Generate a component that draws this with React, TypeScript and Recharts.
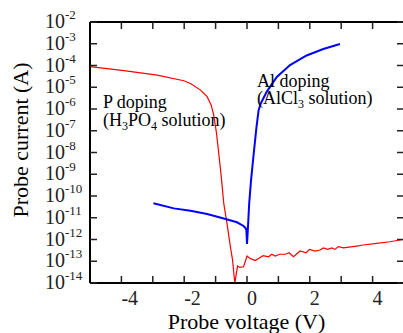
import React from 'react';
import { LineChart, Line, XAxis, YAxis } from 'recharts';

// P doping (H3PO4 solution) — red
const pVoltage = [-5.0, -3.92, -2.86, -2.01, -1.8, -1.48, -1.27, -1.14, -1.06, -0.97, -0.9, -0.83, -0.74, -0.63, -0.53, -0.46, -0.39, -0.3, -0.23, -0.11, 0.0, 0.1, 0.26, 0.42, 0.51, 0.69, 0.79, 0.9, 1.04, 1.22, 1.34, 1.48, 1.69, 1.88, 1.99, 2.17, 2.33, 2.43, 2.57, 2.7, 2.8, 2.91, 3.07, 3.49, 3.7, 4.13, 4.55, 5.0];
const pCurrent = [8.9e-5, 5.8e-5, 3.6e-5, 2.0e-5, 1.5e-5, 7.4e-6, 3.7e-6, 1.5e-6, 5.2e-7, 7.6e-8, 9.1e-9, 1.1e-9, 4.6e-11, 4.7e-12, 4.7e-13, 1.15e-13, 1.0e-14, 6.0e-14, 5.2e-14, 5.6e-14, 1.74e-13, 1.35e-13, 1.07e-13, 1.5e-13, 1.8e-13, 1.6e-13, 2.1e-13, 1.74e-13, 2.1e-13, 2.1e-13, 2.45e-13, 1.6e-13, 2.95e-13, 2.45e-13, 3.5e-13, 2.95e-13, 3.3e-13, 4.1e-13, 3.5e-13, 4.1e-13, 3.5e-13, 4.7e-13, 4.1e-13, 5.0e-13, 5.6e-13, 6.6e-13, 7.9e-13, 1.02e-12];

// Al doping (AlCl3 solution) — blue
const alVoltage = [-2.98, -2.33, -1.8, -1.27, -0.74, -0.32, -0.11, -0.05, -0.02, 0.0, 0.02, 0.07, 0.13, 0.21, 0.3, 0.37, 0.44, 0.63, 0.95, 1.37, 1.9, 2.43, 2.96];
const alCurrent = [4.6e-11, 2.7e-11, 2.1e-11, 1.5e-11, 9.3e-12, 6.2e-12, 4.2e-12, 3.4e-12, 2.8e-12, 6.2e-13, 1.9e-12, 4.6e-11, 5.5e-10, 7.9e-9, 1.4e-7, 8.9e-7, 1.8e-6, 6.3e-6, 2.95e-5, 1.05e-4, 2.9e-4, 5.75e-4, 9.8e-4];

const xTicks = [-5, -4, -3, -2, -1, 0, 1, 2, 3, 4, 5];
const xLabelTicks = [-4, -2, 0, 2, 4];
const yTicks = [1e-14, 1e-13, 1e-12, 1e-11, 1e-10, 1e-9, 1e-8, 1e-7, 1e-6, 1e-5, 1e-4, 1e-3, 1e-2];

const pData = pVoltage.map((v, i) => ({ v, i: pCurrent[i] }));
const alData = alVoltage.map((v, i) => ({ v, i: alCurrent[i] }));

const FONT = "'Liberation Serif', 'Times New Roman', serif";

const YTick = (props: any) => {
  const { y, payload } = props;
  const exp = Math.round(Math.log10(payload.value));
  return (
    <text x={45} y={y + 6} style={{ fontFamily: FONT }} fontSize={20} fill="#222" textAnchor="start">
      <tspan>10</tspan>
      <tspan dy={-9} fontSize={13}>{String(exp)}</tspan>
    </text>
  );
};

const XTick = (props: any) => {
  const { x, payload } = props;
  if (!xLabelTicks.includes(payload.value)) return <g />;
  return (
    <text x={x} y={305} style={{ fontFamily: FONT }} fontSize={20} fill="#222" textAnchor="start">
      {String(payload.value)}
    </text>
  );
};

const Empty = () => <g />;

const tickLineStyle = { stroke: '#222', strokeWidth: 1.5 };
const axisLineStyle = { stroke: '#000', strokeWidth: 2 };

export default function App() {
  return (
    <div style={{ position: 'absolute', left: 0, top: 0, width: 403, height: 333, overflow: 'hidden', background: '#fff' }}>
      <LineChart width={420} height={333} margin={{ top: 12, left: 80, right: 6, bottom: 40 }}>
        <XAxis
          xAxisId="b"
          type="number"
          dataKey="v"
          domain={[-5, 5]}
          ticks={xTicks}
          allowDataOverflow
          height={10}
          tickSize={-7}
          tickLine={tickLineStyle}
          axisLine={axisLineStyle}
          tick={<XTick />}
          interval={0}
        />
        <XAxis
          xAxisId="t"
          orientation="top"
          type="number"
          dataKey="v"
          domain={[-5, 5]}
          ticks={xTicks}
          allowDataOverflow
          height={10}
          tickSize={-7}
          tickLine={tickLineStyle}
          axisLine={axisLineStyle}
          tick={<Empty />}
          interval={0}
        />
        <YAxis
          yAxisId="l"
          scale="log"
          type="number"
          domain={[1e-14, 1e-2]}
          ticks={yTicks}
          allowDataOverflow
          width={10}
          tickSize={-7}
          tickLine={tickLineStyle}
          axisLine={axisLineStyle}
          tick={<YTick />}
          interval={0}
        />
        <YAxis
          yAxisId="r"
          orientation="right"
          scale="log"
          type="number"
          domain={[1e-14, 1e-2]}
          ticks={yTicks}
          allowDataOverflow
          width={10}
          tickSize={-7}
          tickLine={tickLineStyle}
          axisLine={axisLineStyle}
          tick={<Empty />}
          interval={0}
        />
        <Line
          data={pData}
          xAxisId="b"
          yAxisId="l"
          dataKey="i"
          type="linear"
          stroke="#ff0000"
          strokeWidth={1.2}
          dot={false}
          isAnimationActive={false}
        />
        <Line
          data={alData}
          xAxisId="b"
          yAxisId="l"
          dataKey="i"
          type="linear"
          stroke="#0000ff"
          strokeWidth={2}
          dot={false}
          isAnimationActive={false}
        />
        <Line
          data={alData}
          xAxisId="t"
          yAxisId="r"
          dataKey="i"
          type="linear"
          stroke="none"
          strokeWidth={0}
          dot={false}
          legendType="none"
          isAnimationActive={false}
        />
      </LineChart>
      <svg width={403} height={333} style={{ position: 'absolute', left: 0, top: 0, pointerEvents: 'none', fontFamily: FONT }}>
        <g fill="#000">
          <text x={246.5} y={329} fontSize={22} textAnchor="middle">Probe voltage (V)</text>
          <text x={28} y={140} fontSize={22} textAnchor="middle" transform="rotate(-90 28 140)">Probe current (A)</text>
          <text x={103} y={108} fontSize={18}>P doping</text>
          <text x={103} y={126} fontSize={18}>
            <tspan>(H</tspan>
            <tspan fontSize={12} dy={4}>3</tspan>
            <tspan dy={-4}>PO</tspan>
            <tspan fontSize={12} dy={4}>4</tspan>
            <tspan dy={-4}> solution)</tspan>
          </text>
          <text x={257} y={87} fontSize={18}>Al doping</text>
          <text x={257} y={104} fontSize={18}>
            <tspan>(AlCl</tspan>
            <tspan fontSize={12} dy={4}>3</tspan>
            <tspan dy={-4}> solution)</tspan>
          </text>
        </g>
      </svg>
    </div>
  );
}
